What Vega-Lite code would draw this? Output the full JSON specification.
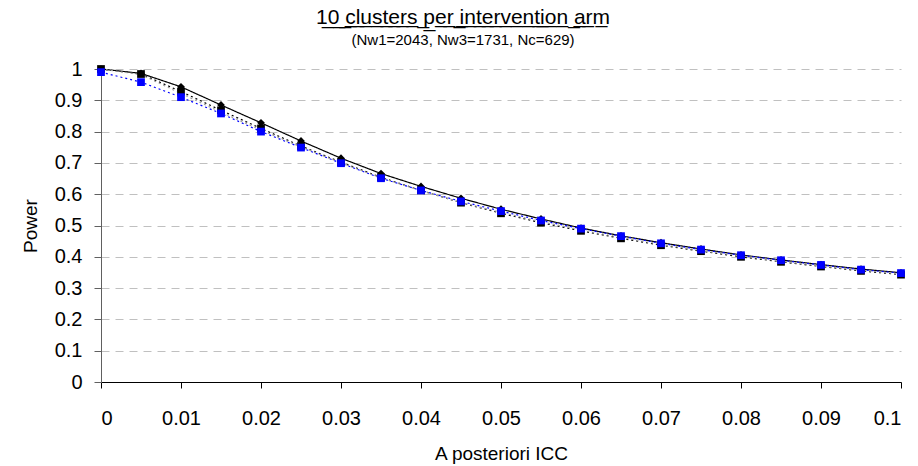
{
  "$schema": "https://vega.github.io/schema/vega-lite/v6.json",
  "autosize": {"type": "none"},
  "padding": {"left": 101, "top": 69, "right": 17, "bottom": 84},
  "width": 800,
  "height": 313,
  "background": "white",
  "config": {
    "view": {"stroke": null},
    "font": "Liberation Sans"
  },
  "title": {
    "text": "1̲0̲ ̲c̲l̲u̲s̲t̲e̲r̲s̲ ̲p̲e̲r̲ ̲i̲n̲t̲e̲r̲v̲e̲n̲t̲i̲o̲n̲ ̲a̲r̲m̲",
    "subtitle": "(Nw1=2043, Nw3=1731, Nc=629)",
    "anchor": "middle",
    "frame": "bounds",
    "font": "Liberation Sans",
    "fontSize": 21,
    "fontWeight": "normal",
    "color": "black",
    "subtitleFont": "Liberation Sans",
    "subtitleFontSize": 15,
    "subtitleColor": "black",
    "subtitlePadding": 5,
    "offset": 11
  },
  "datasets": {
    "pts": [
      {"series": "A", "icc": 0, "power": 1.0},
      {"series": "A", "icc": 0.005, "power": 0.986},
      {"series": "A", "icc": 0.01, "power": 0.943},
      {"series": "A", "icc": 0.015, "power": 0.885},
      {"series": "A", "icc": 0.02, "power": 0.828},
      {"series": "A", "icc": 0.025, "power": 0.77},
      {"series": "A", "icc": 0.03, "power": 0.715},
      {"series": "A", "icc": 0.035, "power": 0.666},
      {"series": "A", "icc": 0.04, "power": 0.625},
      {"series": "A", "icc": 0.045, "power": 0.587},
      {"series": "A", "icc": 0.05, "power": 0.552},
      {"series": "A", "icc": 0.055, "power": 0.521},
      {"series": "A", "icc": 0.06, "power": 0.492},
      {"series": "A", "icc": 0.065, "power": 0.467},
      {"series": "A", "icc": 0.07, "power": 0.445},
      {"series": "A", "icc": 0.075, "power": 0.425},
      {"series": "A", "icc": 0.08, "power": 0.406},
      {"series": "A", "icc": 0.085, "power": 0.39},
      {"series": "A", "icc": 0.09, "power": 0.375},
      {"series": "A", "icc": 0.095, "power": 0.361},
      {"series": "A", "icc": 0.1, "power": 0.349},
      {"series": "B", "icc": 0, "power": 1.0},
      {"series": "B", "icc": 0.005, "power": 0.984},
      {"series": "B", "icc": 0.01, "power": 0.928},
      {"series": "B", "icc": 0.015, "power": 0.868},
      {"series": "B", "icc": 0.02, "power": 0.81},
      {"series": "B", "icc": 0.025, "power": 0.754},
      {"series": "B", "icc": 0.03, "power": 0.702},
      {"series": "B", "icc": 0.035, "power": 0.654},
      {"series": "B", "icc": 0.04, "power": 0.612},
      {"series": "B", "icc": 0.045, "power": 0.573},
      {"series": "B", "icc": 0.05, "power": 0.539},
      {"series": "B", "icc": 0.055, "power": 0.509},
      {"series": "B", "icc": 0.06, "power": 0.483},
      {"series": "B", "icc": 0.065, "power": 0.459},
      {"series": "B", "icc": 0.07, "power": 0.437},
      {"series": "B", "icc": 0.075, "power": 0.418},
      {"series": "B", "icc": 0.08, "power": 0.4},
      {"series": "B", "icc": 0.085, "power": 0.384},
      {"series": "B", "icc": 0.09, "power": 0.369},
      {"series": "B", "icc": 0.095, "power": 0.355},
      {"series": "B", "icc": 0.1, "power": 0.343},
      {"series": "D", "icc": 0, "power": 1.0},
      {"series": "D", "icc": 0.005, "power": 0.982},
      {"series": "D", "icc": 0.01, "power": 0.922},
      {"series": "D", "icc": 0.015, "power": 0.862},
      {"series": "D", "icc": 0.02, "power": 0.805},
      {"series": "D", "icc": 0.025, "power": 0.751},
      {"series": "D", "icc": 0.03, "power": 0.7},
      {"series": "D", "icc": 0.035, "power": 0.652},
      {"series": "D", "icc": 0.04, "power": 0.611},
      {"series": "D", "icc": 0.045, "power": 0.574},
      {"series": "D", "icc": 0.05, "power": 0.542},
      {"series": "D", "icc": 0.055, "power": 0.512},
      {"series": "D", "icc": 0.06, "power": 0.486},
      {"series": "D", "icc": 0.065, "power": 0.462},
      {"series": "D", "icc": 0.07, "power": 0.44},
      {"series": "D", "icc": 0.075, "power": 0.42},
      {"series": "D", "icc": 0.08, "power": 0.403},
      {"series": "D", "icc": 0.085, "power": 0.386},
      {"series": "D", "icc": 0.09, "power": 0.371},
      {"series": "D", "icc": 0.095, "power": 0.357},
      {"series": "D", "icc": 0.1, "power": 0.345},
      {"series": "C", "icc": 0, "power": 0.99},
      {"series": "C", "icc": 0.005, "power": 0.958},
      {"series": "C", "icc": 0.01, "power": 0.91},
      {"series": "C", "icc": 0.015, "power": 0.858},
      {"series": "C", "icc": 0.02, "power": 0.8},
      {"series": "C", "icc": 0.025, "power": 0.749},
      {"series": "C", "icc": 0.03, "power": 0.699},
      {"series": "C", "icc": 0.035, "power": 0.651},
      {"series": "C", "icc": 0.04, "power": 0.612},
      {"series": "C", "icc": 0.045, "power": 0.577},
      {"series": "C", "icc": 0.05, "power": 0.546},
      {"series": "C", "icc": 0.055, "power": 0.516},
      {"series": "C", "icc": 0.06, "power": 0.49},
      {"series": "C", "icc": 0.065, "power": 0.466},
      {"series": "C", "icc": 0.07, "power": 0.443},
      {"series": "C", "icc": 0.075, "power": 0.423},
      {"series": "C", "icc": 0.08, "power": 0.405},
      {"series": "C", "icc": 0.085, "power": 0.389},
      {"series": "C", "icc": 0.09, "power": 0.374},
      {"series": "C", "icc": 0.095, "power": 0.359},
      {"series": "C", "icc": 0.1, "power": 0.348}
    ]
  },
  "data": {"name": "pts"},
  "encoding": {
    "x": {
      "field": "icc",
      "type": "quantitative",
      "scale": {"domain": [0, 0.1], "nice": false, "zero": false},
      "axis": {
        "title": "A posteriori ICC",
        "values": [0, 0.01, 0.02, 0.03, 0.04, 0.05, 0.06, 0.07, 0.08, 0.09, 0.1],
        "format": "~g",
        "grid": false,
        "domainColor": "black",
        "tickColor": "black",
        "tickSize": 6,
        "labelPadding": 20,
        "labelFontSize": 20,
        "labelColor": "black",
        "labelFont": "Liberation Sans",
        "titleFont": "Liberation Sans",
        "titleFontSize": 19,
        "titleFontWeight": "normal",
        "titleColor": "black",
        "titlePadding": 16
      }
    },
    "y": {
      "field": "power",
      "type": "quantitative",
      "scale": {"domain": [0, 1], "nice": false},
      "axis": {
        "title": "Power",
        "values": [0, 0.1, 0.2, 0.3, 0.4, 0.5, 0.6, 0.7, 0.8, 0.9, 1],
        "format": "~g",
        "grid": true,
        "gridColor": "#c0c0c0",
        "gridDash": [8, 6],
        "gridWidth": 1,
        "domainColor": "#606060",
        "tickColor": "#606060",
        "tickSize": 7,
        "labelPadding": 12,
        "labelFontSize": 20,
        "labelColor": "black",
        "labelFont": "Liberation Sans",
        "titleFont": "Liberation Sans",
        "titleFontSize": 19,
        "titleFontWeight": "normal",
        "titleColor": "black",
        "titlePadding": 14
      }
    },
    "color": {
      "field": "series",
      "type": "nominal",
      "scale": {"domain": ["A", "B", "D", "C"], "range": ["black", "black", "#a0a0a0", "#0000ff"]},
      "legend": null
    }
  },
  "layer": [
    {
      "mark": {"type": "line", "strokeWidth": 1.2, "clip": false},
      "encoding": {
        "strokeDash": {
          "field": "series",
          "type": "nominal",
          "scale": {"domain": ["A", "B", "D", "C"], "range": [[1, 0], [2, 3], [2, 3], [2, 3]]},
          "legend": null
        }
      }
    },
    {
      "transform": [{"filter": "datum.series !== 'D'"}],
      "mark": {"type": "point", "filled": true, "opacity": 1, "clip": false},
      "encoding": {
        "shape": {
          "field": "series",
          "type": "nominal",
          "scale": {"domain": ["A", "B", "C"], "range": ["diamond", "square", "square"]},
          "legend": null
        },
        "size": {"value": 60}
      }
    }
  ]
}
